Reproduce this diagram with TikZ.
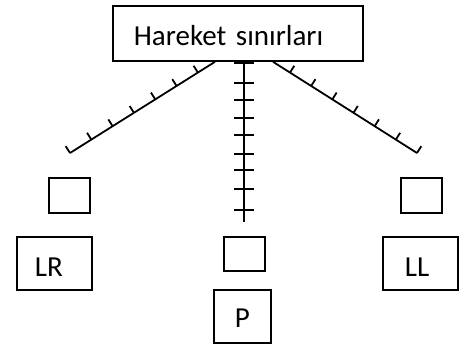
\documentclass[tikz,border=0pt]{standalone}
\usepackage{fontspec}
\setmainfont{Carlito}
\usetikzlibrary{calc}

\begin{document}
\begin{tikzpicture}[x=1pt,y=-1pt,
  line width=1.8pt,
  labelbox/.style={draw, rectangle, anchor=north west, inner ysep=0pt,
    align=left, font=\fontsize{29}{34}\selectfont},
  emptybox/.style={draw, rectangle, anchor=north west, inner sep=0pt},
  rule/.style={line width=1.8pt},
  tick/.style={line width=1.8pt}]

\useasboundingbox (0,0) rectangle (461,345);

% heading box
\node[labelbox, inner xsep=21pt, text width=208pt, text height=40pt, text depth=15pt]
  (title) at (112,5) {Hareket sınırları};

% empty marker boxes
\node[emptybox, minimum width=41pt, minimum height=35pt] (mL) at (48,177) {};
\node[emptybox, minimum width=41pt, minimum height=35pt] (mR) at (400,177) {};
\node[emptybox, minimum width=41pt, minimum height=34pt] (mC) at (223,236) {};

% labelled boxes
\node[labelbox, inner xsep=18pt, text width=39pt, text height=40pt, text depth=13pt]
  (LR) at (16,236) {LR};
\node[labelbox, inner xsep=22pt, text width=31pt, text height=40pt, text depth=13pt]
  (LL) at (382,236) {LL};
\node[labelbox, align=center, inner xsep=0pt, minimum width=57pt, text height=38pt, text depth=15pt]
  (P) at (213,289) {P};

% start and end points of the three scales
\coordinate (lTop) at ($(title.south west)+(103,0)$);
\coordinate (cTop) at ($(title.south west)+(132,0)$);
\coordinate (rTop) at ($(title.south west)+(161,0)$);
\coordinate (lEnd) at (70,153);
\coordinate (cEnd) at (244,222);
\coordinate (rEnd) at (417,153);

% slanted scales with short perpendicular ticks on their upper side
\draw[rule] (lTop) -- (lEnd);
\draw[rule] (rTop) -- (rEnd);
\foreach \t in {0.118,0.265,0.412,0.559,0.706,0.853,1.0}{
  \draw[tick] ($(lTop)!\t!(lEnd)$) -- ++(-4.3,-6.8);
  \draw[tick] ($(rTop)!\t!(rEnd)$) -- ++(4.3,-6.8);
}

% vertical scale with cross ticks
\draw[rule] (cTop) -- (cEnd);
\foreach \d in {1,21,38,56,73,92,108,127,148}{
  \draw[tick] ($(cTop)+(-10,\d)$) -- ($(cTop)+(10,\d)$);
}
\end{tikzpicture}
\end{document}
